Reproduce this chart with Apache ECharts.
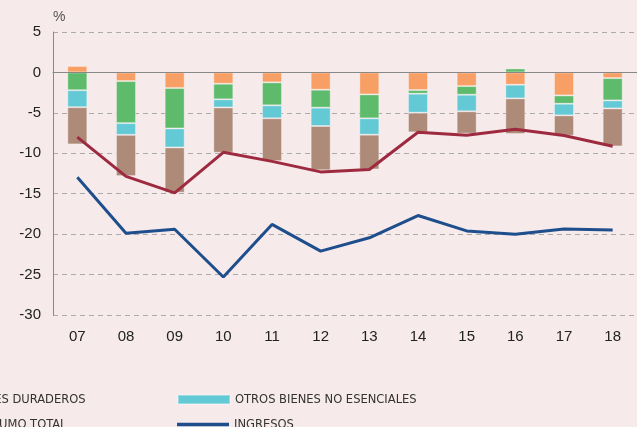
<!DOCTYPE html>
<html>
<head>
<meta charset="utf-8">
<script src="https://cdn.jsdelivr.net/npm/echarts@6/dist/echarts.min.js"></script>
<style>
  html, body { margin: 0; padding: 0; background: #f6eaea; }
  #main { width: 637px; height: 427px; }
</style>
</head>
<body>
<div id="main"></div>
<script>
// datos
const years = ['07', '08', '09', '10', '11', '12', '13', '14', '15', '16', '17', '18']
const esenciales = [0.8, -1.07, -1.93, -1.4, -1.23, -2.14, -2.72, -2.18, -1.69, -1.52, -2.84, -0.7]
const duraderos = [-2.2, -5.2, -5.0, -1.93, -2.84, -2.22, -2.96, -0.45, -1.07, 0.49, -1.03, -2.76]
const noEsenciales = [-2.1, -1.45, -2.35, -1.0, -1.6, -2.27, -2.02, -2.35, -2.05, -1.69, -1.44, -0.99]
const servicios = [-4.6, -5.1, -5.6, -5.6, -5.3, -5.47, -4.3, -2.43, -2.76, -4.4, -2.51, -4.7]
const consumoTotal = [-8.0, -12.85, -14.9, -9.88, -11.0, -12.3, -12.0, -7.4, -7.78, -7.04, -7.8, -9.14]
const ingresos = [-12.96, -19.9, -19.4, -25.3, -18.8, -22.1, -20.45, -17.7, -19.6, -20.0, -19.35, -19.5]
const yTicks = { min: -30, max: 5, interval: 5 }

const chartBox = echarts.init(document.getElementById('main'))

// una leyenda por elemento (la caja de abajo se sale del lienzo)
const legendItem = (name, left, top, isLine) => ({
  left: left,
  top: top,
  padding: 0,
  icon: 'rect',
  itemWidth: 52,
  itemHeight: isLine ? 3.5 : 9,
  itemGap: 0,
  data: [name],
  textStyle: {
    fontFamily: ['DejaVu Sans Condensed', 'Liberation Sans'],
    fontSize: 12.8,
    color: '#333'
  }
})

const barSerie = (name, data, color) => ({
  name: name,
  type: 'bar',
  stack: 'total',
  barWidth: 20,
  data: data,
  itemStyle: {
    color: color,
    borderColor: 'rgba(255,255,255,0.35)',
    borderWidth: 1
  }
})

const option = {
  backgroundColor: '#f6eaea',
  animation: false,
  grid: {
    left: 53,
    right: 0,
    top: 32,
    bottom: 112
  },
  legend: [
    legendItem('BIENES ESENCIALES', -348, 393, false),
    legendItem('SERVICIOS', -348, 418, false),
    legendItem('BIENES DURADEROS', -91, 393, false),
    legendItem('CONSUMO TOTAL', -91, 418, true),
    legendItem('OTROS BIENES NO ESENCIALES', 177, 393, false),
    legendItem('INGRESOS', 177, 418, true)
  ],
  xAxis: {
    type: 'category',
    data: years,
    axisLine: { lineStyle: { color: '#888', width: 1 } },
    axisTick: { inside: true, length: 5, lineStyle: { color: '#888' } },
    axisLabel: {
      color: '#222',
      fontFamily: 'Liberation Sans',
      fontSize: 15,
      margin: 14
    }
  },
  yAxis: {
    type: 'value',
    min: yTicks.min,
    max: yTicks.max,
    interval: yTicks.interval,
    name: '%',
    nameGap: 8,
    nameTextStyle: {
      color: '#555',
      fontFamily: 'Liberation Sans',
      fontSize: 14,
      align: 'left'
    },
    axisLine: { show: true, lineStyle: { color: '#888' } },
    axisTick: { show: false },
    axisLabel: {
      color: '#222',
      fontFamily: 'Liberation Sans',
      fontSize: 15,
      margin: 12
    },
    splitLine: {
      lineStyle: { color: '#aaa', type: [5, 4], width: 1 }
    }
  },
  series: [
    barSerie('BIENES ESENCIALES', esenciales, '#f89f65'),
    barSerie('BIENES DURADEROS', duraderos, '#5dbb6b'),
    barSerie('OTROS BIENES NO ESENCIALES', noEsenciales, '#62c9d5'),
    Object.assign(barSerie('SERVICIOS', servicios, '#ae8a78'), {
      markLine: {
        silent: true,
        symbol: 'none',
        label: { show: false },
        lineStyle: { color: '#888', type: 'solid', width: 1 },
        data: [{ yAxis: 0 }]
      }
    }),
    {
      name: 'CONSUMO TOTAL',
      type: 'line',
      data: consumoTotal,
      symbol: 'none',
      lineStyle: { color: '#9e2a40', width: 3 },
      itemStyle: { color: '#9e2a40' }
    },
    {
      name: 'INGRESOS',
      type: 'line',
      data: ingresos,
      symbol: 'none',
      lineStyle: { color: '#1f4e8d', width: 3 },
      itemStyle: { color: '#1f4e8d' }
    }
  ]
}
chartBox.setOption(option)
</script>
</body>
</html>
